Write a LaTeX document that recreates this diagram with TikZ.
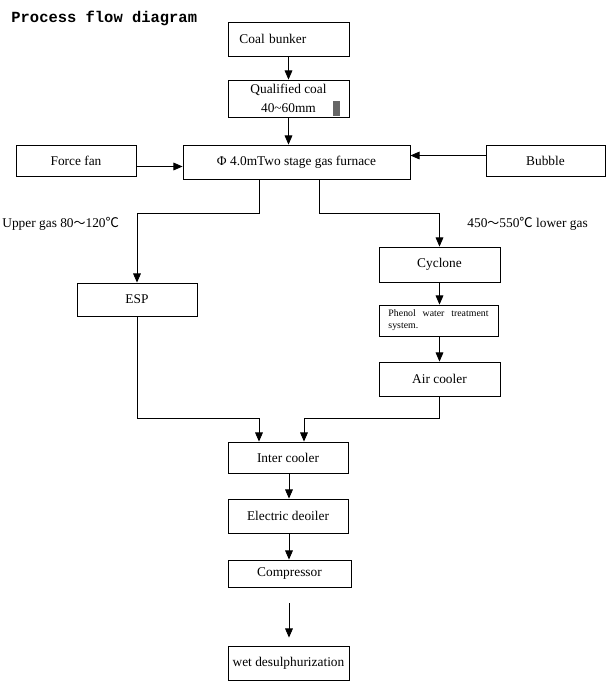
\documentclass[tikz,border=0pt]{standalone}
\usepackage{fontspec}
\setmainfont{Liberation Serif}
\newfontfamily\titlefont{Liberation Mono}
\newfontfamily\cjk{Noto Sans CJK SC}
\usetikzlibrary{arrows.meta,calc}

\begin{document}
\begin{tikzpicture}[x=0.025cm,y=-0.025cm,line width=0.6pt,
    box/.style={draw,font=\fontsize{9.5}{14}\selectfont,inner sep=1pt},
    arr/.style={-{Triangle[width=5.5pt,length=6.5pt]}}]
  \useasboundingbox (0,0) rectangle (607,698);
  \node[anchor=west,inner sep=0pt,font=\titlefont\bfseries\fontsize{11}{13}\selectfont] (title) at (11,18) {Process flow diagram};
  \node[box,minimum width=3.025cm,minimum height=0.85cm,text width=2.45cm,align=left] (coal) at (288.5,39) {Coal bunker};
  \node[box,minimum width=3.025cm,minimum height=0.925cm,align=center] (qual) at (288.5,98.5) {Qualified coal\\40\textasciitilde60mm};
  \fill[gray!80!black] (333,101) rectangle (340,116);
  \node[box,minimum width=3cm,minimum height=0.775cm] (fan) at (76,160.5) {Force fan};
  \node[box,minimum width=5.675cm,minimum height=0.85cm] (furn) at (296.5,162) {Φ 4.0mTwo stage gas furnace};
  \node[box,minimum width=2.975cm,minimum height=0.775cm] (bub) at (545.5,160.5) {Bubble};
  \node[anchor=west,inner sep=0pt,font=\fontsize{9.5}{12}\selectfont] (upper) at (2,224) {Upper gas 80{\cjk\fontsize{8.5}{12}\selectfont ～}120{\cjk ℃}};
  \node[anchor=west,inner sep=0pt,font=\fontsize{9.5}{12}\selectfont] (lower) at (467,224) {450{\cjk\fontsize{8.5}{12}\selectfont ～}550{\cjk ℃} lower gas};
  \node[box,minimum width=3cm,minimum height=0.825cm] (esp) at (137,299.5) {ESP};
  \node[box,minimum width=3.025cm,minimum height=0.875cm] (cyc) at (439.5,264.5) {Cyclone};
  \node[box,minimum width=2.975cm,minimum height=0.775cm,text width=2.5cm,align=justify,font=\fontsize{7}{8.5}\selectfont] (phen) at (438.5,320.5) {Phenol water treatment \mbox{system.}};
  \node[box,minimum width=3.025cm,minimum height=0.85cm] (air) at (439.5,379) {Air cooler};
  \node[box,minimum width=3cm,minimum height=0.775cm] (inter) at (288,457.5) {Inter cooler};
  \node[box,minimum width=3cm,minimum height=0.85cm] (deoil) at (288,516) {Electric deoiler};
  \node[box,minimum width=3.075cm,minimum height=0.675cm] (comp) at (289.5,573.5) {Compressor};
  \node[box,minimum width=3.025cm,minimum height=0.85cm] (wet) at (288.5,663) {wet desulphurization};
  \draw[arr] (coal) -- (qual);
  \draw[arr] (qual.south) -- (qual.south |- furn.north);
  \coordinate (fanout) at ($(fan.east)+(0,6)$);
  \draw[arr] (fanout) -- (fanout -| furn.west);
  \coordinate (bubout) at ($(bub.west)+(0,-5)$);
  \draw[arr] (bubout) -- (bubout -| furn.east);
  \draw[arr] ($(furn.south)+(-37.5,0)$) -- ++(0,34) -| (esp.north);
  \draw[arr] ($(furn.south)+(22.5,0)$) -- ++(0,34) -| (cyc.north);
  \draw[arr] (cyc.south) -- (cyc.south |- phen.north);
  \draw[arr] (cyc.south |- phen.south) -- (cyc.south |- air.north);
  \draw[arr] (esp.south) -- ++(0,102) -| ($(inter.north)+(-29,0)$);
  \draw[arr] (air.south) -- ++(0,22) -| ($(inter.north)+(16,0)$);
  \coordinate (interout) at ($(inter.south)+(1,0)$);
  \draw[arr] (interout) -- (interout |- deoil.north);
  \coordinate (deoilout) at ($(deoil.south)+(1,0)$);
  \draw[arr] (deoilout) -- (deoilout |- comp.north);
  \coordinate (compgap) at ($(comp.south)+(-0.5,16)$);
  \coordinate (wetin) at ($(wet.north)+(0,-8)$);
  \draw[arr] (compgap) -- (compgap |- wetin);
\end{tikzpicture}
\end{document}
